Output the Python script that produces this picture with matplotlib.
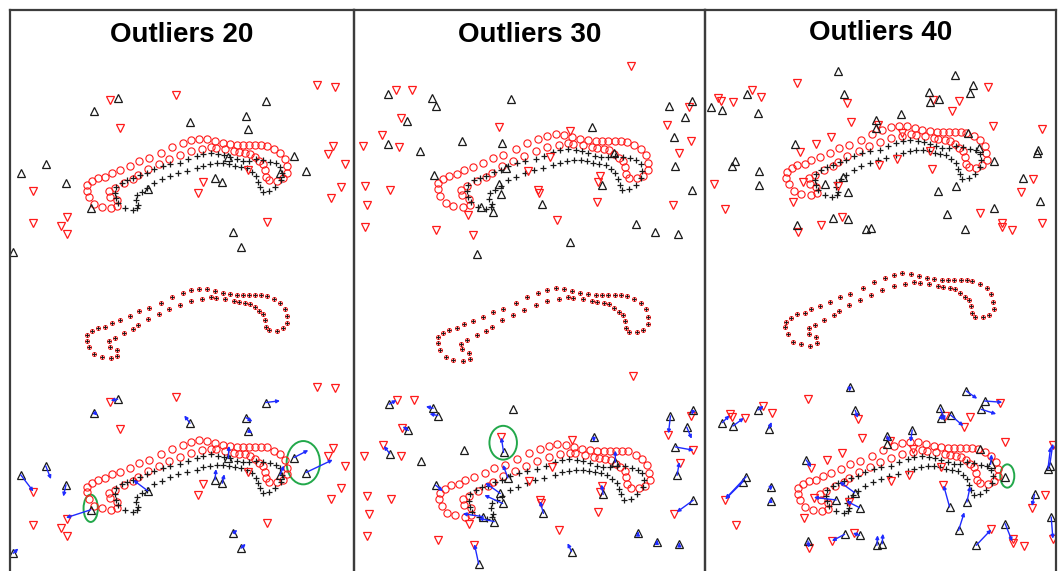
import matplotlib
matplotlib.use("Agg")
import matplotlib.pyplot as plt
from matplotlib.patches import Ellipse

# ---- shape data (shared by all panels) ----
# target point set (closed contour)
target_x = [77.3, 82.0, 87.7, 95.3, 101.7, 110.0, 120.0, 129.3, 139.3, 151.3, 162.3, 172.7, 181.3,
            189.3, 197.3, 205.0, 212.7, 220.0, 227.3, 233.3, 239.3, 245.3, 251.3, 256.7, 264.0,
            270.3, 275.0, 276.7, 277.3, 272.7, 266.7, 259.3, 256.0, 255.0, 253.3, 249.3, 245.0,
            240.0, 235.0, 228.7, 224.0, 215.3, 206.0, 201.0, 192.0, 181.3, 170.0, 159.3, 149.0,
            137.7, 128.3, 123.3, 114.0, 105.0, 99.3, 100.0, 106.7, 107.3, 101.0, 91.7, 84.3, 79.3, 76.7]
target_y = [-10.3, -6.3, -3.0, -1.7, 2.3, 5.0, 9.0, 13.7, 16.7, 22.3, 28.0, 31.7, 34.7,
            36.3, 35.7, 33.7, 31.7, 30.7, 30.0, 29.7, 29.7, 30.0, 30.0, 29.3, 26.0,
            22.3, 16.3, 9.0, 2.3, -3.3, -5.7, -5.3, -1.7, 4.7, 10.7, 14.0, 17.7,
            21.0, 22.3, 23.0, 24.0, 25.7, 27.3, 27.7, 26.3, 24.0, 20.0, 15.7, 11.0,
            6.0, -0.3, -4.0, -8.3, -13.3, -16.3, -21.7, -25.0, -31.0, -33.3, -31.7, -29.3, -22.3, -15.7]

# source point set (deformed contour)
source_x = [106.0, 111.7, 117.3, 123.3, 130.0, 136.7, 144.0, 152.7, 160.0, 170.0, 178.3, 186.7,
            193.3, 200.7, 208.3, 214.0, 220.0, 226.7, 232.7, 239.3, 246.0, 253.3, 260.0, 266.0,
            270.0, 271.7, 270.7, 265.3, 259.3, 252.7, 250.0, 248.3, 246.0, 241.7, 236.7, 230.7,
            225.0, 219.3, 213.3, 206.7, 200.0, 193.3, 186.7, 176.7, 168.3, 160.0, 151.7, 144.0,
            136.7, 131.7, 126.7, 126.0, 128.3, 127.3, 122.7, 115.0, 108.3, 106.0, 105.0]
source_y = [-11.7, -7.7, -5.0, -3.3, 0.0, 2.3, 5.7, 9.0, 10.7, 12.3, 15.7, 19.0,
            21.0, 22.3, 21.0, 20.0, 18.3, 15.7, 14.3, 14.3, 15.7, 15.0, 13.3, 11.7,
            8.3, 1.7, -5.0, -11.7, -15.7, -16.7, -11.7, -6.7, -1.0, 3.3, 6.7, 8.3,
            9.3, 10.7, 11.7, 11.7, 11.0, 9.3, 6.7, 4.3, 2.3, -0.7, -4.3, -7.7,
            -13.3, -16.7, -20.0, -25.0, -30.0, -33.3, -35.0, -33.3, -28.3, -23.3, -17.7]

# ---- Outliers 20 ----
out20_src_x = [107.7, 84.3, 180.0, 255.7, 235.7, 238.3, 284.0, 296.0, 35.7, 10.7,
               56.0, 80.7, 205.0, 212.3, 137.7, 218.3, 270.0, 223.3, 231.0, 3.3]
out20_src_y = [77.3, 64.0, 53.3, 74.0, 59.0, 45.7, 19.0, 4.0, 10.7, 1.7,
               -8.3, -33.3, -3.3, -6.7, -14.3, 18.3, 1.7, -56.7, -71.7, -76.7]
out20_move_x = [-7.0, 3.3, -5.7, 14.3, 6.7, 4.0, 14.3, 26.7, 5.3, 12.7,
                -2.7, -24.7, 1.0, 2.0, -14.3, 0.7, 4.0, 4.0, 4.7, 5.0]
out20_move_y = [-1.3, -3.0, 7.7, 1.7, -4.0, -2.3, 7.3, 12.7, -13.3, -16.7,
                -11.7, -8.0, 10.7, 9.0, 10.7, 12.3, 9.3, 3.3, 4.3, 4.7]
out20_dst_x = [100.0, 166.0, 306.7, 325.0, 110.0, 323.3, 317.7, 335.0, 330.7, 321.0,
               192.7, 187.7, 238.3, 256.7, 23.3, 23.3, 51.0, 56.7, 56.7]
out20_dst_y = [75.0, 80.0, 90.0, 88.3, 47.3, 29.0, 21.0, 10.7, -11.7, -22.7,
               -7.3, -18.3, 5.0, -46.7, -15.7, -48.3, -51.0, -42.3, -59.3]
out20_ring_x = [293.3, 80.7]
out20_ring_y = [13.8, -31.8]
out20_ring_w = [33.3, 14.3]
out20_ring_h = [43.3, 27.3]

# ---- Outliers 30 ----
out30_src_x = [29.1, 71.1, 75.5, 47.4, 146.6, 100.2, 29.7, 59.7, 138.1, 224.0,
               297.0, 318.8, 312.5, 301.7, 303.3, 318.8, 73.3, 134.9, 137.2, 129.2,
               176.0, 232.9, 244.5, 142.2, 266.1, 284.1, 305.5, 202.8, 114.4, 118.5]
out30_src_y = [74.2, 70.4, 63.4, 49.2, 69.8, 30.2, 27.1, 20.5, 28.3, 42.9,
               63.1, 68.2, 52.4, 33.5, 6.5, -17.2, -2.9, -10.8, -20.3, -37.6,
               -29.8, -11.8, 18.9, 4.1, -48.7, -56.6, -59.1, -66.1, -78.1, -32.9]
out30_move_x = [7.0, -7.0, -7.9, -5.4, 0.0, 0.0, -5.7, 0.0, -2.2, 0.0,
                -1.9, -1.6, 4.7, 17.4, 2.2, -15.8, 7.0, -14.2, -17.4, -14.8,
                -3.2, -1.6, 0.0, -4.7, 0.0, 0.0, 0.0, -3.8, -4.1, -19.3]
out30_move_y = [3.8, 1.6, 1.6, 3.8, 0.0, 0.0, 7.3, 0.0, 14.2, -4.7,
                -16.7, -4.1, -11.1, -3.2, 12.6, -11.4, -5.7, 10.1, 7.9, 3.2,
                11.7, 9.5, 11.1, 12.3, 1.5, 1.5, 1.5, 7.9, 19.0, 2.8]
out30_dst_x = [37.0, 52.8, 41.7, 23.7, 5.4, 40.1, 135.5, 261.3, 202.8, 316.6,
               295.1, 318.2, 306.2, 7.6, 31.3, 9.5, 7.6, 75.5, 110.2, 105.5,
               162.4, 172.8, 173.5, 183.9, 231.9, 229.7, 228.2, 190.8, 300.8]
out30_dst_y = [78.3, 78.3, 51.5, 35.6, 25.2, 24.5, 42.9, 101.3, 39.7, 62.5,
               45.1, 30.2, 18.3, -13.4, -16.5, -30.7, -51.8, -55.1, -59.8, -40.2,
               0.9, -17.2, -19.6, 14.5, -3.9, -9.6, -28.5, -45.6, -30.7]
out30_ring_x = [137.7]
out30_ring_y = [37.5]
out30_ring_w = [26.2]
out30_ring_h = [32.2]

# ---- Outliers 40 ----
out40_src_x = [128.7, 245.3, 263.7, 260.3, 219.3, 220.3, 229.7, 134.3, 37.0, 1.3,
               12.0, 48.0, 191.3, 166.0, 166.0, 85.3, 258.7, 328.7, 327.0, 25.3,
               22.0, 49.7, 49.7, 284.3, 313.7, 330.3, 115.3, 138.7, 133.7, 228.7,
               246.0, 237.7, 255.3, 284.3, 123.7, 138.7, 87.0, 156.0, 161.3, 269.7]
out40_src_y = [91.3, 87.0, 77.0, 68.7, 69.7, 60.3, 63.0, 67.7, 68.0, 55.3,
               52.0, 49.3, 48.0, 42.0, 33.7, 18.0, 29.3, 12.0, 8.7, 1.3,
               -3.7, -8.7, -23.0, 1.3, -16.3, -39.0, -22.0, -29.7, -14.7, -29.0,
               -24.0, -52.3, -67.3, -45.7, -56.3, -57.3, -63.0, -67.3, -65.7, 13.7]
out40_move_x = [0.0, 11.0, 17.7, 15.0, 5.0, 2.0, 12.7, 2.7, 5.7, 7.3,
                11.0, 2.7, -1.7, 2.7, 0.0, 5.0, 0.0, 3.3, 2.7, -20.7,
                -17.7, 0.0, 0.0, 0.0, -2.7, 1.7, -22.3, -13.3, -15.0, -6.0,
                3.3, 5.7, 15.0, 7.0, -12.7, -6.7, 1.0, 0.7, 0.7, 1.0]
out40_move_y = [-5.0, -7.7, -1.3, -4.7, -12.0, -2.5, -11.0, -7.7, 4.0, 7.3,
                8.0, 6.7, -12.0, -5.7, 0.0, -7.3, 0.0, 22.3, 22.3, -22.0,
                -17.7, -4.0, 3.0, 0.0, -11.7, -21.7, 2.7, 6.7, 11.0, 21.7,
                15.7, 18.0, 15.7, -17.7, -6.7, 2.3, -6.7, 10.0, 10.0, 10.0]
out40_dst_x = [87.0, 42.0, 51.3, 8.7, 11.0, 23.7, 137.0, 141.3, 278.7, 249.3,
               242.7, 223.7, 283.7, 332.0, 121.3, 106.3, 90.3, 169.7, 187.7, 220.3,
               222.0, 93.0, 128.0, 4.3, 15.3, 83.0, 323.7, 311.0, 270.3, 292.0,
               302.7, 332.0, 292.0, 132.7, 111.3, 88.0, 168.7, 192.0]
out40_dst_y = [79.3, 72.0, 65.3, 63.7, 61.0, 59.7, 58.7, 40.3, 75.3, 61.3,
               51.0, 62.0, 36.0, 32.7, 24.7, 17.7, 10.3, -3.0, 3.0, 11.3,
               -7.3, -20.3, -23.7, -22.3, -47.3, -40.3, -17.3, -30.3, -50.7, -61.3,
               -68.0, -60.7, -64.7, -55.3, -63.0, -70.3, 37.0, 28.7]
out40_ring_x = [286.4]
out40_ring_y = [2.0]
out40_ring_w = [14.0]
out40_ring_h = [23.3]

titles = ["Outliers 20", "Outliers 30", "Outliers 40"]

panels = [
    (out20_src_x, out20_src_y, out20_move_x, out20_move_y, out20_dst_x, out20_dst_y,
     out20_ring_x, out20_ring_y, out20_ring_w, out20_ring_h),
    (out30_src_x, out30_src_y, out30_move_x, out30_move_y, out30_dst_x, out30_dst_y,
     out30_ring_x, out30_ring_y, out30_ring_w, out30_ring_h),
    (out40_src_x, out40_src_y, out40_move_x, out40_move_y, out40_dst_x, out40_dst_y,
     out40_ring_x, out40_ring_y, out40_ring_w, out40_ring_h),
]

# ---- layout (pixels) ----
W, H = 1059, 571
TOP = 9.5
EDGES = [10, 354, 705, 1056]
TITLE_Y = [35, 35, 33]
# per panel, per row: (x origin, y origin, scale) of the data frame
ROW_FRAMES = [
    [(10.0, 175.0, 1.0), (10.0, 325.0, 1.0), (10.0, 476.5, 1.0)],
    [(357.0, 172.4, 1.05), (357.0, 326.4, 1.05), (358.6, 482.1, 1.05)],
    [(709.7, 162.0, 1.0), (705.4, 311.1, 1.04), (720.9, 478.0, 1.0)],
]

RED = "#ff1a1a"
DARK = "#1a1a1a"

fig = plt.figure(figsize=(W / 100, H / 100), dpi=100)
fig.patch.set_facecolor("white")


def draw_sets(ax, src_x, src_y, dst_x, dst_y):
    ax.plot(target_x, target_y, "o", mfc="none", mec=RED, ms=5.2, mew=0.8)
    ax.plot(source_x, source_y, "+", color=DARK, ms=5.0, mew=0.9)
    ax.plot(dst_x, dst_y, "v", mfc="none", mec=RED, ms=5.4, mew=0.9)
    ax.plot(src_x, src_y, "^", mfc="none", mec=DARK, ms=5.4, mew=0.9)


for p in range(3):
    L, R = EDGES[p], EDGES[p + 1]
    rect = [L / W, 0.0, (R - L) / W, (H - TOP) / H]
    src_x, src_y, mv_x, mv_y, dst_x, dst_y, rg_x, rg_y, rg_w, rg_h = panels[p]

    for r in range(3):
        ox, oy, s = ROW_FRAMES[p][r]
        ax = fig.add_axes(rect, zorder=1 + r)
        ax.set_facecolor("none")
        ax.axis("off")
        ax.set_xlim((L - ox) / s, (R - ox) / s)
        ax.set_ylim((oy - H) / s, (oy - TOP) / s)

        if r == 0:
            draw_sets(ax, src_x, src_y, dst_x, dst_y)
        elif r == 1:
            ax.plot(target_x, target_y, "o", mfc="none", mec=RED, ms=2.9, mew=0.7)
            ax.plot(target_x, target_y, "+", color=DARK, ms=2.9, mew=0.7)
        else:
            draw_sets(ax, src_x, src_y, dst_x, dst_y)
            for x0, y0, dx, dy in zip(src_x, src_y, mv_x, mv_y):
                if dx == 0 and dy == 0:
                    continue
                ax.annotate("", xy=(x0 + dx, y0 + dy), xytext=(x0, y0),
                            arrowprops=dict(arrowstyle="-|>", color="#1f2bff", lw=1.0,
                                            shrinkA=0, shrinkB=0, mutation_scale=5))
            for cx, cy, ew, eh in zip(rg_x, rg_y, rg_w, rg_h):
                ax.add_patch(Ellipse((cx, cy), ew, eh, fill=False,
                                     edgecolor="#22a84a", lw=1.4))

    frame = fig.add_axes(rect, zorder=10)
    frame.set_facecolor("none")
    frame.set_xticks([])
    frame.set_yticks([])
    for side in ("left", "right", "top"):
        frame.spines[side].set_linewidth(1.6)
        frame.spines[side].set_color("#3c3c3c")
    frame.spines["bottom"].set_visible(False)

    fig.text((L + R) / 2 / W, 1 - TITLE_Y[p] / H, titles[p], ha="center", va="center",
             fontsize=20, fontweight="bold", family=["Liberation Sans", "DejaVu Sans"])

fig.savefig("out.png", dpi=100, facecolor="white")
